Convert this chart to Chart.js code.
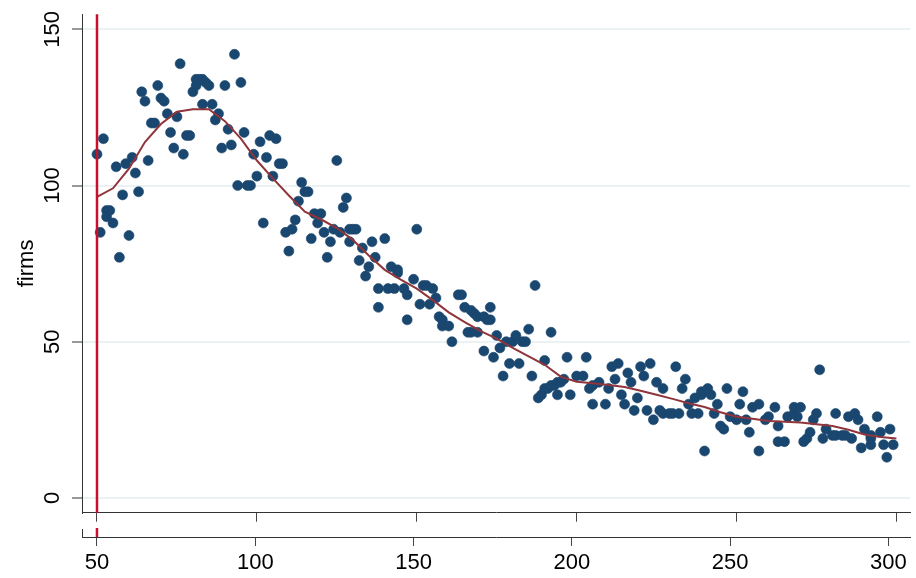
<!DOCTYPE html>
<html>
<head>
<meta charset="utf-8">
<script src="https://cdn.jsdelivr.net/npm/chart.js@4.4.1/dist/chart.umd.min.js"></script>
<style>
html,body{margin:0;padding:0;background:#fff}
#wrap{width:916px;height:578px;position:relative}
</style>
</head>
<body>
<div id="wrap"><canvas id="firms_chart"></canvas></div>
<script>
'use strict'

// scatter: firms by size
const firmX=[50,51,52,53,53,54,55,56,57,58,59,60,61,62,63,64,65,66,67,68,69,70,71,72,73,74,75,76,77,78,79,
  80,81,81,82,83,83,84,85,86,87,88,89,90,91,92,93,94,95,96,97,98,99,100,101,102,103,104,105,106,107,108,109,
  110,111,112,113,114,115,116,117,118,119,120,121,122,123,124,125,126,127,128,129,129,130,131,132,133,134,135,
  136,137,138,138,140,141,142,143,144,144,146,147,147,149,150,151,152,153,154,155,156,157,158,158,160,161,163,
  164,165,166,167,167,168,169,169,171,171,172,173,173,174,175,176,177,178,179,180,181,182,183,184,185,186,187,
  188,189,190,190,191,192,192,193,194,194,195,196,197,198,200,202,203,204,205,205,207,209,210,211,212,213,214,
  215,216,217,218,219,220,221,222,223,224,225,226,227,227,229,230,231,232,233,234,235,236,237,238,239,239,240,
  241,242,243,244,245,246,247,248,250,251,252,253,254,255,257,257,259,260,262,263,263,265,266,268,268,269,270,
  271,272,273,274,275,276,277,278,280,281,281,283,284,285,286,287,288,289,290,292,292,292,294,295,296,297,298,299]
const firmY=[110,85,115,90,92,92,88,106,77,97,107,84,109,104,98,130,127,108,120,120,132,128,127,123,117,112,122,139,110,116,116,
  130,132,134,134,126,134,133,132,126,121,123,112,132,118,113,142,100,133,117,100,100,110,103,114,88,109,116,103,115,107,107,85,
  79,86,89,95,101,98,98,83,91,88,91,85,77,82,86,108,85,93,96,86,82,86,86,76,80,71,74,
  82,77,67,61,83,67,74,67,72,73,67,57,65,70,86,62,68,68,62,67,64,58,57,55,55,50,65,
  65,61,53,60,53,59,53,58,58,47,57,61,57,45,52,48,39,50,43,50,52,43,50,50,54,39,68,
  32,33,44,35,35,53,36,36,33,37,37,38,45,33,39,39,45,35,36,30,37,30,35,42,38,43,33,
  30,40,37,28,32,42,39,28,43,25,37,28,35,27,27,27,42,27,35,38,30,27,32,27,33,34,15,
  35,33,27,30,23,22,35,26,25,30,34,25,21,29,15,30,25,26,29,23,18,18,26,27,29,26,29,
  18,19,21,25,27,41,19,22,20,27,20,20,20,26,19,27,25,16,22,19,17,20,26,21,17,13,22,17]

// smoothed fit
const smoothX=[50,55,60,65,70,75,80,85,90,95,100,105,110,115,120,125,130,135,140,145,150,155,160,165,170,175,
  180,185,190,195,200,205,210,215,220,225,230,235,240,245,250,255,260,265,270,275,280,285,290,295,300]
const smoothY=[96.4,99.1,105.4,113.9,119.7,123.6,124.4,124.4,120.6,115,108,102.3,96.8,91.6,89.2,86.4,82.6,77.6,73,69.9,
  67,63.3,59.4,56.3,53.4,51,48,45.3,42.6,38.8,37.2,36.7,36.1,35.5,34.3,33,31.7,30.3,29.1,27.4,26,25.3,24.6,24.4,
  24.1,23.6,23,21.8,20.3,19.5,19]

const xTicks=[50,100,150,200,250,300]
const yTicks=[0,50,100,150]
const cutoff=50

const font={family:'"Liberation Sans", Arial, sans-serif',size:22}

const xlinePlugin={
  id:'xline',
  afterDatasetsDraw(chart){
    const {ctx,chartArea,scales}=chart
    const px=scales.x.getPixelForValue(cutoff)
    const px2=scales.x2.getPixelForValue(cutoff)
    ctx.save()
    ctx.strokeStyle='#c8102e'
    ctx.lineWidth=2.5
    ctx.beginPath()
    ctx.moveTo(px,chartArea.top)
    ctx.lineTo(px,chartArea.bottom)
    ctx.moveTo(px2,scales.x2.top-9)
    ctx.lineTo(px2,scales.x2.top)
    ctx.stroke()
    // little cap at the left end of the lower axis
    ctx.strokeStyle='#333'
    ctx.lineWidth=1
    ctx.beginPath()
    ctx.moveTo(scales.x2.left+0.5,scales.x2.top-8)
    ctx.lineTo(scales.x2.left+0.5,scales.x2.top)
    ctx.stroke()
    ctx.restore()
  }
}

const ctx=document.getElementById('firms_chart').getContext('2d')
const chart=new Chart(ctx,{
  type:'scatter',
  data:{
    datasets:[{
      type:'line',
      label:'smooth',
      data:smoothX.map((x,i)=>({x:x,y:smoothY[i]})),
      borderColor:'#90353b',
      borderWidth:2,
      pointRadius:0,
      tension:0,
      fill:false
    },{
      label:'firms',
      data:firmX.map((x,i)=>({x:x,y:firmY[i]})),
      backgroundColor:'#1a476f',
      borderColor:'#1a476f',
      borderWidth:0.6,
      pointRadius:5
    }]
  },
  options:{
    responsive:true,
    maintainAspectRatio:false,
    animation:false,
    layout:{padding:{top:9,right:5,left:0,bottom:0}},
    plugins:{legend:{display:false},tooltip:{enabled:false}},
    scales:{
      x:{
        type:'linear',position:'bottom',min:45.31,max:304.375,
        afterBuildTicks:s=>{s.ticks=xTicks.map(v=>({value:v}))},
        afterFit:s=>{s.height=24.3},
        grid:{drawOnChartArea:false,tickColor:'#444',tickLength:9},
        border:{color:'#333',width:1},
        ticks:{display:false}
      },
      x2:{
        type:'linear',position:'bottom',min:45.27,max:306.94,
        afterBuildTicks:s=>{s.ticks=xTicks.map(v=>({value:v}))},
        afterFit:s=>{s.height=41},
        grid:{drawOnChartArea:false,tickColor:'#444',tickLength:9},
        border:{color:'#333',width:1},
        ticks:{color:'#000',font:font,padding:4,maxRotation:0}
      },
      y:{
        min:-4.75,max:154.85,
        afterBuildTicks:s=>{s.ticks=yTicks.map(v=>({value:v}))},
        afterFit:s=>{s.width=82},
        grid:{color:'#eaf2f3',lineWidth:2,tickColor:'#333',tickLength:10,tickWidth:1},
        border:{color:'#333',width:1},
        ticks:{color:'#000',font:font,minRotation:90,maxRotation:90,crossAlign:'center',padding:1},
        title:{display:true,text:'firms',color:'#000',font:font,padding:{top:14,bottom:0}}
      }
    }
  },
  plugins:[xlinePlugin]
})
</script>
</body>
</html>
